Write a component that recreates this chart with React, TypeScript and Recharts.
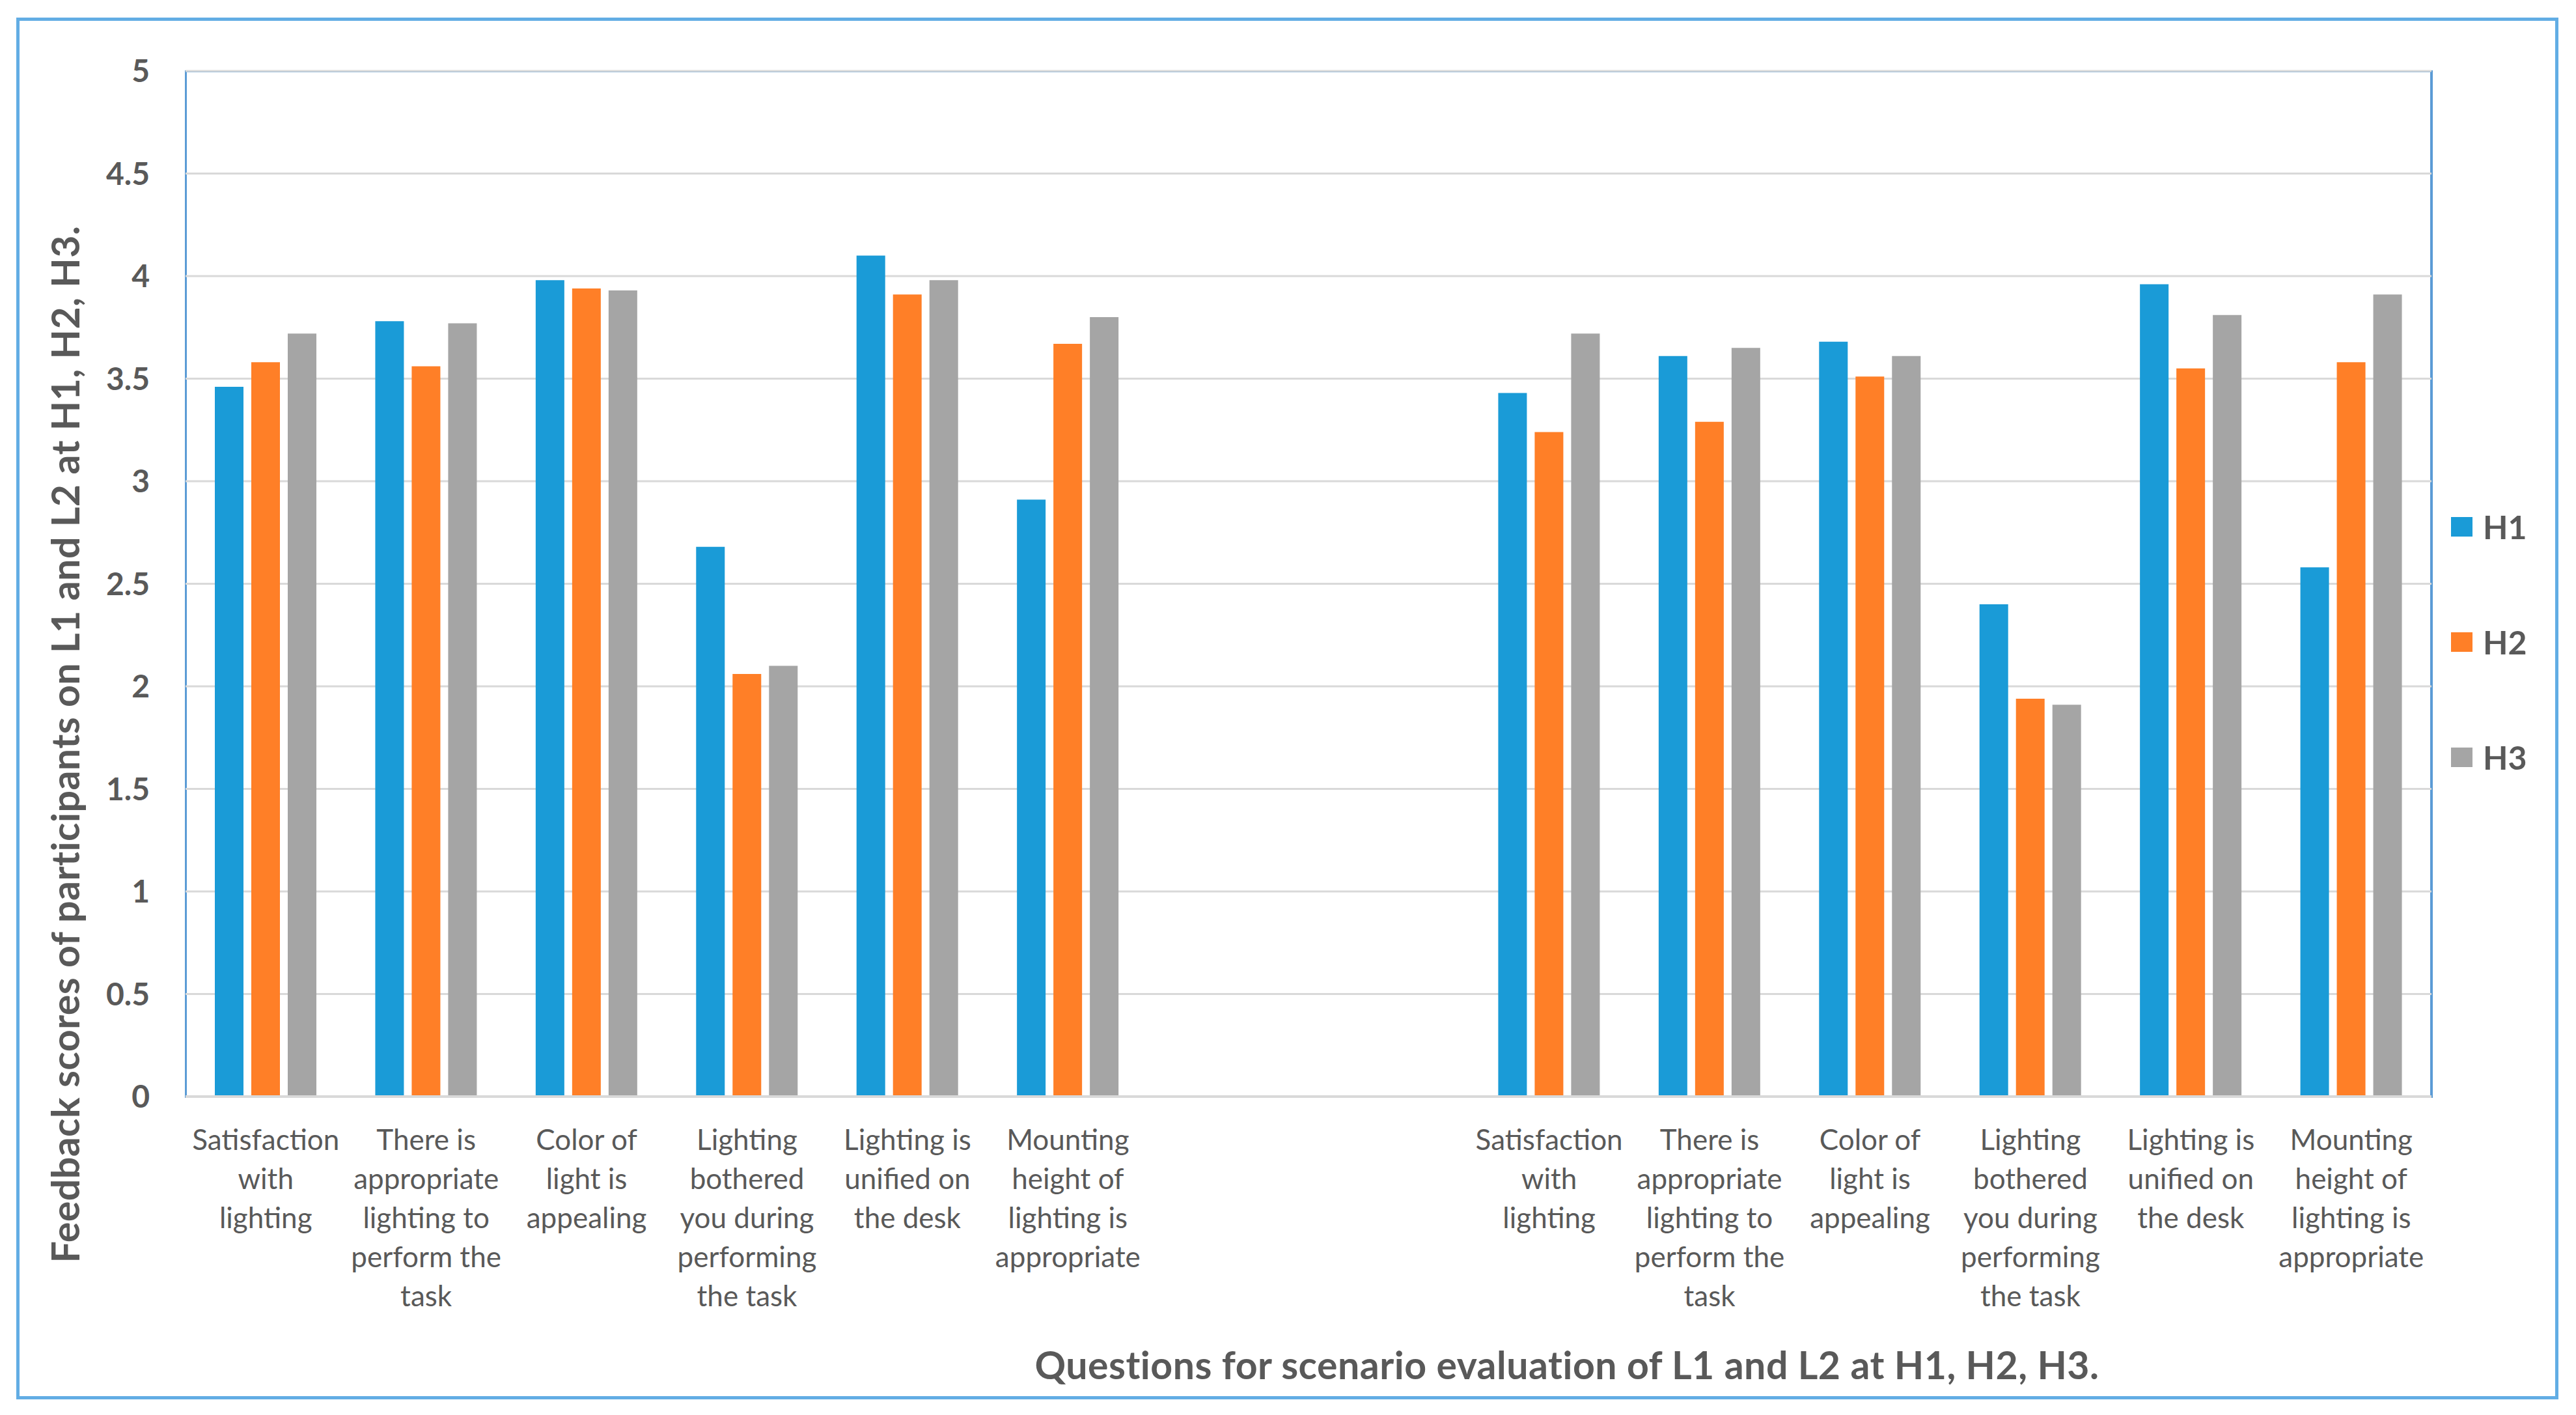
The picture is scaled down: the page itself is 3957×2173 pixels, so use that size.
import React from 'react';
import { BarChart, Bar, XAxis, YAxis, CartesianGrid, Legend } from 'recharts';

const CATEGORY_LABELS: string[] = [
  'Satisfaction\nwith\nlighting',
  'There is\nappropriate\nlighting to\nperform the\ntask',
  'Color of\nlight is\nappealing',
  'Lighting\nbothered\nyou during\nperforming\nthe task',
  'Lighting is\nunified on\nthe desk',
  'Mounting\nheight of\nlighting is\nappropriate',
  '',
  '',
  'Satisfaction\nwith\nlighting',
  'There is\nappropriate\nlighting to\nperform the\ntask',
  'Color of\nlight is\nappealing',
  'Lighting\nbothered\nyou during\nperforming\nthe task',
  'Lighting is\nunified on\nthe desk',
  'Mounting\nheight of\nlighting is\nappropriate',
];

const H1_VALUES: (number | null)[] = [3.46, 3.78, 3.98, 2.68, 4.1, 2.91, null, null, 3.43, 3.61, 3.68, 2.4, 3.96, 2.58];
const H2_VALUES: (number | null)[] = [3.58, 3.56, 3.94, 2.06, 3.91, 3.67, null, null, 3.24, 3.29, 3.51, 1.94, 3.55, 3.58];
const H3_VALUES: (number | null)[] = [3.72, 3.77, 3.93, 2.1, 3.98, 3.8, null, null, 3.72, 3.65, 3.61, 1.91, 3.81, 3.91];

const Y_TICKS: number[] = [0, 0.5, 1, 1.5, 2, 2.5, 3, 3.5, 4, 4.5, 5];

const SERIES = [
  { key: 'H1', color: '#1A9BD7' },
  { key: 'H2', color: '#FF7F27' },
  { key: 'H3', color: '#A5A5A5' },
];

const X_TITLE = 'Questions for scenario evaluation of L1 and L2 at H1, H2, H3.';
const Y_TITLE = 'Feedback scores of participants on L1 and L2 at H1, H2, H3.';

const data = CATEGORY_LABELS.map((label, i) => ({
  id: `c${i}`,
  label,
  H1: H1_VALUES[i],
  H2: H2_VALUES[i],
  H3: H3_VALUES[i],
}));

const FONT = 'Lato, "Open Sans", sans-serif';
const TEXT_COLOR = '#595959';
const BORDER_BLUE = '#5B9BD5';

const CategoryTick = (props: any) => {
  const { x, y, payload } = props;
  const item = data.find((d) => d.id === payload.value);
  const lines = item && item.label ? item.label.split('\n') : [];
  return (
    <g>
      {lines.map((line: string, i: number) => (
        <text
          key={i}
          x={x}
          y={y + 66 + i * 60}
          dy="0.36em"
          textAnchor="middle"
          fontFamily={FONT}
          fontSize={44}
          fill={TEXT_COLOR}
        >
          {line}
        </text>
      ))}
    </g>
  );
};

const XTitle = (props: any) => {
  const vb = props.viewBox || {};
  return (
    <text
      x={vb.x + 2122}
      y={2097}
      dy="0.36em"
      textAnchor="middle"
      fontFamily={FONT}
      fontWeight={700}
      fontSize={59}
      letterSpacing={0.5}
      fill={TEXT_COLOR}
    >
      {X_TITLE}
    </text>
  );
};

const YTitle = () => {
  const cx = 101;
  const cy = 1143;
  return (
    <text
      x={cx}
      y={cy}
      dy="0.36em"
      textAnchor="middle"
      transform={`rotate(-90, ${cx}, ${cy})`}
      fontFamily={FONT}
      fontWeight={700}
      fontSize={59}
      letterSpacing={0.5}
      fill={TEXT_COLOR}
    >
      {Y_TITLE}
    </text>
  );
};

const LegendContent = (props: any) => {
  const payload = props.payload && props.payload.length ? props.payload : SERIES.map((s) => ({ value: s.key, color: s.color }));
  return (
    <div style={{ display: 'flex', flexDirection: 'column' }}>
      {payload.map((p: any) => (
        <div key={p.value} style={{ height: 177, display: 'flex', alignItems: 'center' }}>
          <div style={{ width: 33, height: 30, background: p.color, marginRight: 16 }} />
          <span style={{ fontFamily: FONT, fontWeight: 700, fontSize: 50, color: TEXT_COLOR, lineHeight: 1 }}>{p.value}</span>
        </div>
      ))}
    </div>
  );
};

export default function App() {
  return (
    <div style={{ position: 'absolute', left: 0, top: 0, width: 3957, height: 2173, background: '#ffffff' }}>
      <div
        style={{
          position: 'absolute',
          left: 284,
          top: 108,
          width: 3453,
          height: 1578,
          borderTop: `3px solid ${BORDER_BLUE}`,
          borderLeft: `3px solid ${BORDER_BLUE}`,
          borderRight: `4px solid ${BORDER_BLUE}`,
          boxSizing: 'border-box',
          pointerEvents: 'none',
        }}
      />
      <div style={{ position: 'absolute', left: 0, top: 0 }}>
        <BarChart
          width={3957}
          height={2173}
          data={data}
          margin={{ top: 109, right: 222, bottom: 0, left: 165 }}
          barGap={12}
          barSize={44}
        >
          <CartesianGrid vertical={false} stroke="#D9D9D9" strokeWidth={3} />
          <XAxis
            dataKey="id"
            height={489}
            interval={0}
            tickLine={false}
            tickSize={0}
            tickMargin={0}
            axisLine={{ stroke: '#D9D9D9', strokeWidth: 4 }}
            tick={<CategoryTick />}
            label={<XTitle />}
          />
          <YAxis
            domain={[0, 5]}
            ticks={Y_TICKS}
            width={120}
            tickLine={false}
            tickSize={0}
            tickMargin={55}
            axisLine={false}
            tick={{ fontFamily: FONT, fontWeight: 700, fontSize: 48, fill: TEXT_COLOR }}
            label={<YTitle />}
          />
          {SERIES.map((s) => (
            <Bar key={s.key} dataKey={s.key} name={s.key} fill={s.color} isAnimationActive={false} />
          ))}
          <Legend
            layout="vertical"
            align="center"
            verticalAlign="middle"
            content={<LegendContent />}
            wrapperStyle={{ left: 3765, top: 720, width: 160 }}
          />
        </BarChart>
      </div>
      <div
        style={{
          position: 'absolute',
          left: 25,
          top: 27,
          width: 3905,
          height: 2122,
          border: '5px solid #62ADE4',
          boxSizing: 'border-box',
          pointerEvents: 'none',
        }}
      />
    </div>
  );
}
